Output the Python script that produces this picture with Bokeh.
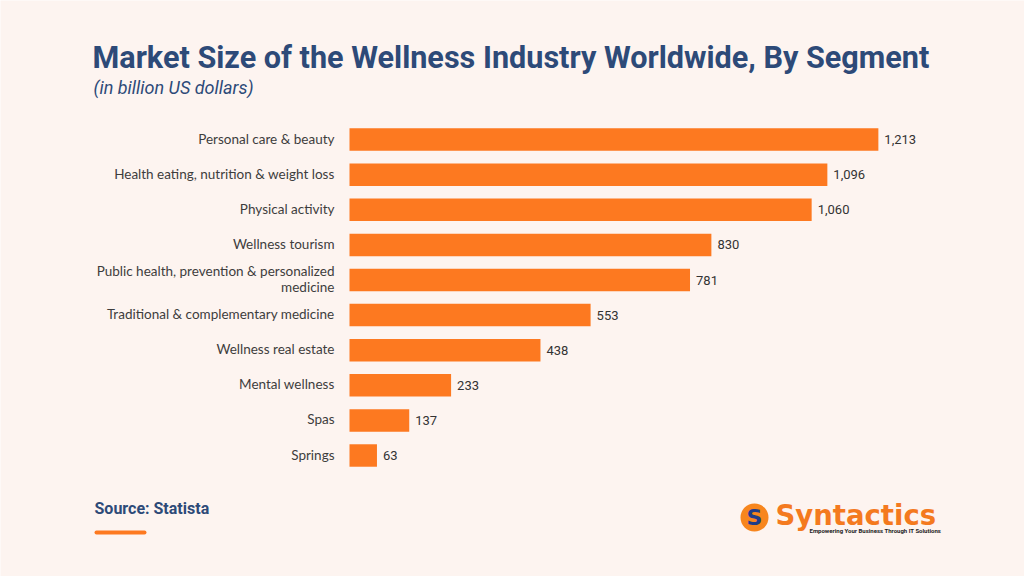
from bokeh.plotting import figure
from bokeh.models import Range1d, Label, BoxAnnotation, ColumnDataSource
from bokeh.core.properties import value
from bokeh.embed import file_html
from bokeh.resources import INLINE

categories = ["Personal care & beauty", "Health eating, nutrition & weight loss",
              "Physical activity", "Wellness tourism",
              "Public health, prevention & personalized\nmedicine",
              "Traditional & complementary medicine", "Wellness real estate",
              "Mental wellness", "Spas", "Springs"]
values = [1213, 1096, 1060, 830, 781, 553, 438, 233, 137, 63]
value_labels = ["1,213", "1,096", "1,060", "830", "781", "553", "438", "233", "137", "63"]

title = "Market Size of the Wellness Industry Worldwide, By Segment"
subtitle = "(in billion US dollars)"
source_txt = "Source: Statista"

BG = "#FDF4F0"
NAVY = "#2D4A78"
ORANGE = "#FD7920"

W, H = 1024, 576
px_per_unit = 0.436
x0_px = 349
row_px = 35.1
n = len(categories)
ypos = [n - 1 - i for i in range(n)]
bottom_px = 121

p = figure(width=W, height=H, output_backend="svg", toolbar_location=None,
           x_range=Range1d(-x0_px / px_per_unit, (W - x0_px) / px_per_unit),
           y_range=Range1d(-bottom_px / row_px, (n - 1) + (H - bottom_px - (n - 1) * row_px) / row_px),
           min_border=0, background_fill_color=BG, border_fill_color=BG,
           outline_line_color=None)
p.axis.visible = False
p.grid.visible = False

src = ColumnDataSource(dict(cat=categories, val=values, lab=value_labels, y=ypos))
p.hbar(y="y", left=0, right="val", height=0.64, source=src,
       fill_color=ORANGE, line_color=None)
p.text(x=0, y="y", text="cat", source=src, x_offset=-15, y_offset=-1,
       text_align="right", text_baseline="middle", text_font=value("Lato"),
       text_font_size="13.5px", text_color="#3d3d3d", text_line_height=1.0)
p.text(x="val", y="y", text="lab", source=src, x_offset=6,
       text_align="left", text_baseline="middle", text_font=value("Roboto"),
       text_font_size="13px", text_color="#333333")

p.add_layout(Label(x=92, y=H - 57, x_units="screen", y_units="screen", text=title,
                   text_font="Roboto", text_font_style="bold", text_font_size="30.6px",
                   text_color=NAVY, text_baseline="alphabetic"))
p.add_layout(Label(x=93, y=H - 87, x_units="screen", y_units="screen", text=subtitle,
                   text_font="Roboto", text_font_style="italic", text_font_size="18px",
                   text_color=NAVY, text_baseline="alphabetic"))
p.add_layout(Label(x=94, y=H - 508, x_units="screen", y_units="screen", text=source_txt,
                   text_font="Roboto", text_font_style="bold", text_font_size="16px",
                   text_color=NAVY, text_baseline="alphabetic"))
p.add_layout(BoxAnnotation(left=94, right=146, bottom=H - 534, top=H - 530,
                           left_units="screen", right_units="screen",
                           bottom_units="screen", top_units="screen",
                           fill_color=ORANGE, fill_alpha=1, line_color=None,
                           border_radius=2))
# logo
p.add_layout(BoxAnnotation(left=740, right=768, bottom=H - 531, top=H - 503,
                           left_units="screen", right_units="screen",
                           bottom_units="screen", top_units="screen",
                           fill_color="#F7861E", fill_alpha=1, line_color=None,
                           border_radius=14))
p.add_layout(Label(x=754, y=H - 517, x_units="screen", y_units="screen", text="S",
                   text_font="DejaVu Sans", text_font_style="bold", text_font_size="22px",
                   text_color="#1F3C88", text_align="center", text_baseline="middle"))
p.add_layout(Label(x=775, y=H - 514, x_units="screen", y_units="screen", text="Syntactics",
                   text_font="DejaVu Sans", text_font_style="bold", text_font_size="27.5px",
                   text_color="#F47A1F", text_baseline="alphabetic"))
p.add_layout(Label(x=809, y=H - 530, x_units="screen", y_units="screen",
                   text="Empowering Your Business Through IT Solutions",
                   text_font="Roboto", text_font_style="bold", text_font_size="6px",
                   text_color="#222222", text_baseline="alphabetic"))

open("out.html", "w").write(file_html(p, INLINE))
